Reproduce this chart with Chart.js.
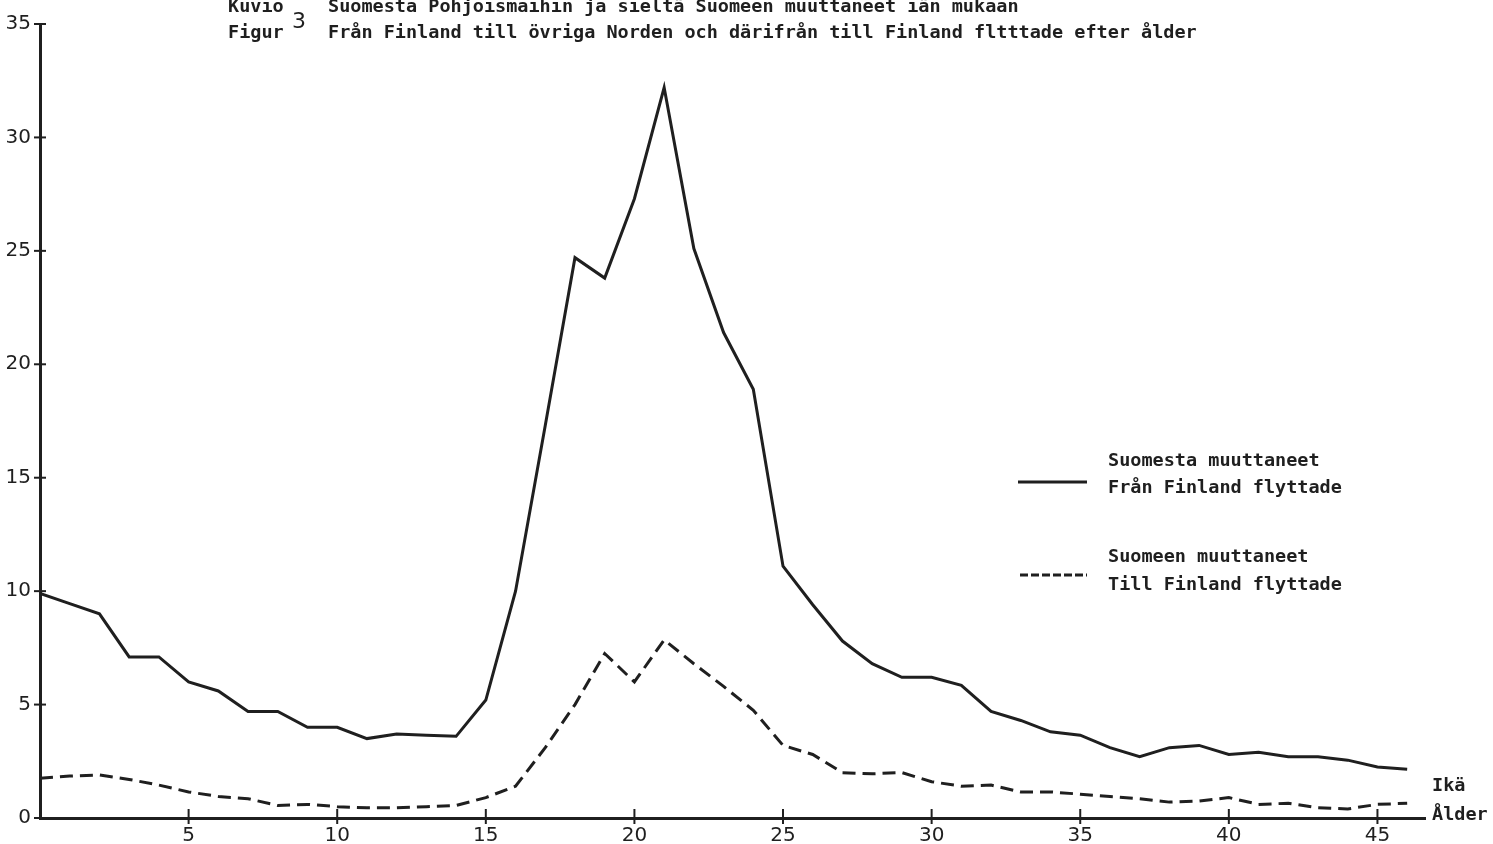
<!DOCTYPE html>
<html>
<head>
<meta charset="utf-8">
<title>Kuvio 3</title>
<script src="https://cdn.jsdelivr.net/npm/chart.js@4.4.1/dist/chart.umd.min.js"></script>
<style>
    html, body { margin: 0; padding: 0; background: #fff; }
    #wrap { width: 1493px; height: 844px; }
</style>
</head>
<body>
<div id="wrap"><canvas id="migrationChart" width="1493" height="844"></canvas></div>
<script>
// age in years
var ages = [0, 1, 2, 3, 4, 5, 6, 7, 8, 9, 10, 11, 12, 13, 14, 15, 16, 17, 18, 19, 20, 21, 22, 23,
    24, 25, 26, 27, 28, 29, 30, 31, 32, 33, 34, 35, 36, 37, 38, 39, 40, 41, 42, 43, 44, 45, 46];

// Suomesta muuttaneet / Från Finland flyttade
var fromFinland = [9.9, 9.45, 9.0, 7.1, 7.1, 6.0, 5.6, 4.7, 4.7, 4.0, 4.0, 3.5, 3.7, 3.65, 3.6, 5.2,
    10.0, 17.3, 24.7, 23.8, 27.3, 32.2, 25.1, 21.4, 18.9, 11.1, 9.4, 7.8, 6.8, 6.2, 6.2, 5.85,
    4.7, 4.3, 3.8, 3.65, 3.1, 2.7, 3.1, 3.2, 2.8, 2.9, 2.7, 2.7, 2.55, 2.25, 2.15];

// Suomeen muuttaneet / Till Finland flyttade
var toFinland = [1.75, 1.85, 1.9, 1.7, 1.45, 1.15, 0.95, 0.85, 0.55, 0.6, 0.5, 0.45, 0.45, 0.5, 0.55, 0.9,
    1.4, 3.1, 5.0, 7.25, 6.0, 7.85, 6.8, 5.8, 4.75, 3.2, 2.8, 2.0, 1.95, 2.0, 1.6, 1.4,
    1.45, 1.15, 1.15, 1.05, 0.95, 0.85, 0.7, 0.75, 0.9, 0.6, 0.65, 0.45, 0.4, 0.6, 0.65];

var xTicks = [0, 5, 10, 15, 20, 25, 30, 35, 40, 45];
var yTicks = [0, 5, 10, 15, 20, 25, 30, 35];

var titleLines = [
    ["Kuvio", "Suomesta Pohjoismaihin ja sieltä Suomeen muuttaneet iän mukaan"],
    ["Figur", "Från Finland till övriga Norden och därifrån till Finland fltttade efter ålder"]
];
var legendLabels = [
    ["Suomesta muuttaneet", "Från Finland flyttade"],
    ["Suomeen muuttaneet", "Till Finland flyttade"]
];

var ink = "#1f1f1f";
var typeFont = "bold 18.5px 'DejaVu Sans Mono', 'Liberation Mono', monospace";

function toPoints(values) {
    var pts = [];
    for (var i = 0; i < ages.length; i++) {
        pts.push({ x: ages[i], y: values[i] });
    }
    return pts;
}

// title, legend, axis crossings and the Ikä / Ålder note
var paperPlugin = {
    id: "paper",
    beforeDraw: function(chart) {
        var ctx = chart.ctx;
        ctx.save();
        ctx.fillStyle = "#ffffff";
        ctx.fillRect(0, 0, chart.width, chart.height);
        ctx.restore();
    },
    afterDraw: function(chart) {
        var ctx = chart.ctx;
        var xs = chart.scales.x;
        var ys = chart.scales.y;
        var area = chart.chartArea;
        ctx.save();
        ctx.strokeStyle = ink;
        ctx.fillStyle = ink;

        // tick marks crossing the axes
        ctx.lineWidth = 2;
        for (var i = 0; i < yTicks.length; i++) {
            var py = ys.getPixelForValue(yTicks[i]);
            ctx.beginPath();
            ctx.moveTo(area.left - 6, py);
            ctx.lineTo(area.left + 6, py);
            ctx.stroke();
        }
        for (var j = 1; j < xTicks.length; j++) {
            var px = xs.getPixelForValue(xTicks[j]);
            ctx.beginPath();
            ctx.moveTo(px, area.bottom - 9);
            ctx.lineTo(px, area.bottom + 6);
            ctx.stroke();
        }

        // title
        ctx.font = typeFont;
        ctx.textBaseline = "middle";
        ctx.textAlign = "left";
        ctx.fillText(titleLines[0][0], 228, 7);
        ctx.fillText(titleLines[0][1], 328, 7);
        ctx.fillText(titleLines[1][0], 228, 33);
        ctx.fillText(titleLines[1][1], 328, 33);
        ctx.font = "22px 'DejaVu Sans', sans-serif";
        ctx.fillText("3", 292, 22);

        // legend
        ctx.font = typeFont;
        ctx.fillText(legendLabels[0][0], 1108, 461);
        ctx.fillText(legendLabels[0][1], 1108, 488);
        ctx.fillText(legendLabels[1][0], 1108, 557);
        ctx.fillText(legendLabels[1][1], 1108, 585);

        ctx.lineWidth = 3;
        ctx.beginPath();
        ctx.moveTo(1018, 482);
        ctx.lineTo(1087, 482);
        ctx.stroke();
        ctx.setLineDash([8, 3]);
        ctx.beginPath();
        ctx.moveTo(1020, 575);
        ctx.lineTo(1087, 575);
        ctx.stroke();
        ctx.setLineDash([]);

        // axis name at the right end
        ctx.fillText("Ikä", 1432, 786);
        ctx.fillText("Ålder", 1432, 815);
        ctx.restore();
    }
};

var ctx = document.getElementById("migrationChart").getContext("2d");
var migrationChart = new Chart(ctx, {
    type: "line",
    data: {
        datasets: [{
                label: legendLabels[0].join(" / "),
                data: toPoints(fromFinland),
                borderColor: ink,
                borderWidth: 3,
                pointRadius: 0,
                tension: 0,
                fill: false
            },
            {
                label: legendLabels[1].join(" / "),
                data: toPoints(toFinland),
                borderColor: ink,
                borderWidth: 3,
                borderDash: [13, 7],
                pointRadius: 0,
                tension: 0,
                fill: false
            }
        ]
    },
    options: {
        responsive: false,
        animation: false,
        layout: {
            padding: { top: 24, right: 68, bottom: 0, left: 0 }
        },
        plugins: {
            legend: { display: false },
            tooltip: { enabled: false },
            title: { display: false }
        },
        scales: {
            x: {
                type: "linear",
                min: 0,
                max: 46.6,
                afterFit: function(scale) { scale.height = 26; },
                afterBuildTicks: function(scale) {
                    scale.ticks = xTicks.map(function(v) { return { value: v }; });
                },
                grid: { display: false, drawTicks: false },
                border: { display: true, color: ink, width: 3 },
                ticks: {
                    padding: 6,
                    color: ink,
                    font: { family: "'DejaVu Sans', sans-serif", size: 20 },
                    callback: function(v) { return v === 0 ? "" : v; }
                }
            },
            y: {
                min: 0,
                max: 35,
                afterFit: function(scale) { scale.width = 40; },
                afterBuildTicks: function(scale) {
                    scale.ticks = yTicks.map(function(v) { return { value: v }; });
                },
                grid: { display: false, drawTicks: false },
                border: { display: true, color: ink, width: 3 },
                ticks: {
                    padding: 9,
                    color: ink,
                    font: { family: "'DejaVu Sans', sans-serif", size: 20 }
                }
            }
        }
    },
    plugins: [paperPlugin]
});
</script>
</body>
</html>
